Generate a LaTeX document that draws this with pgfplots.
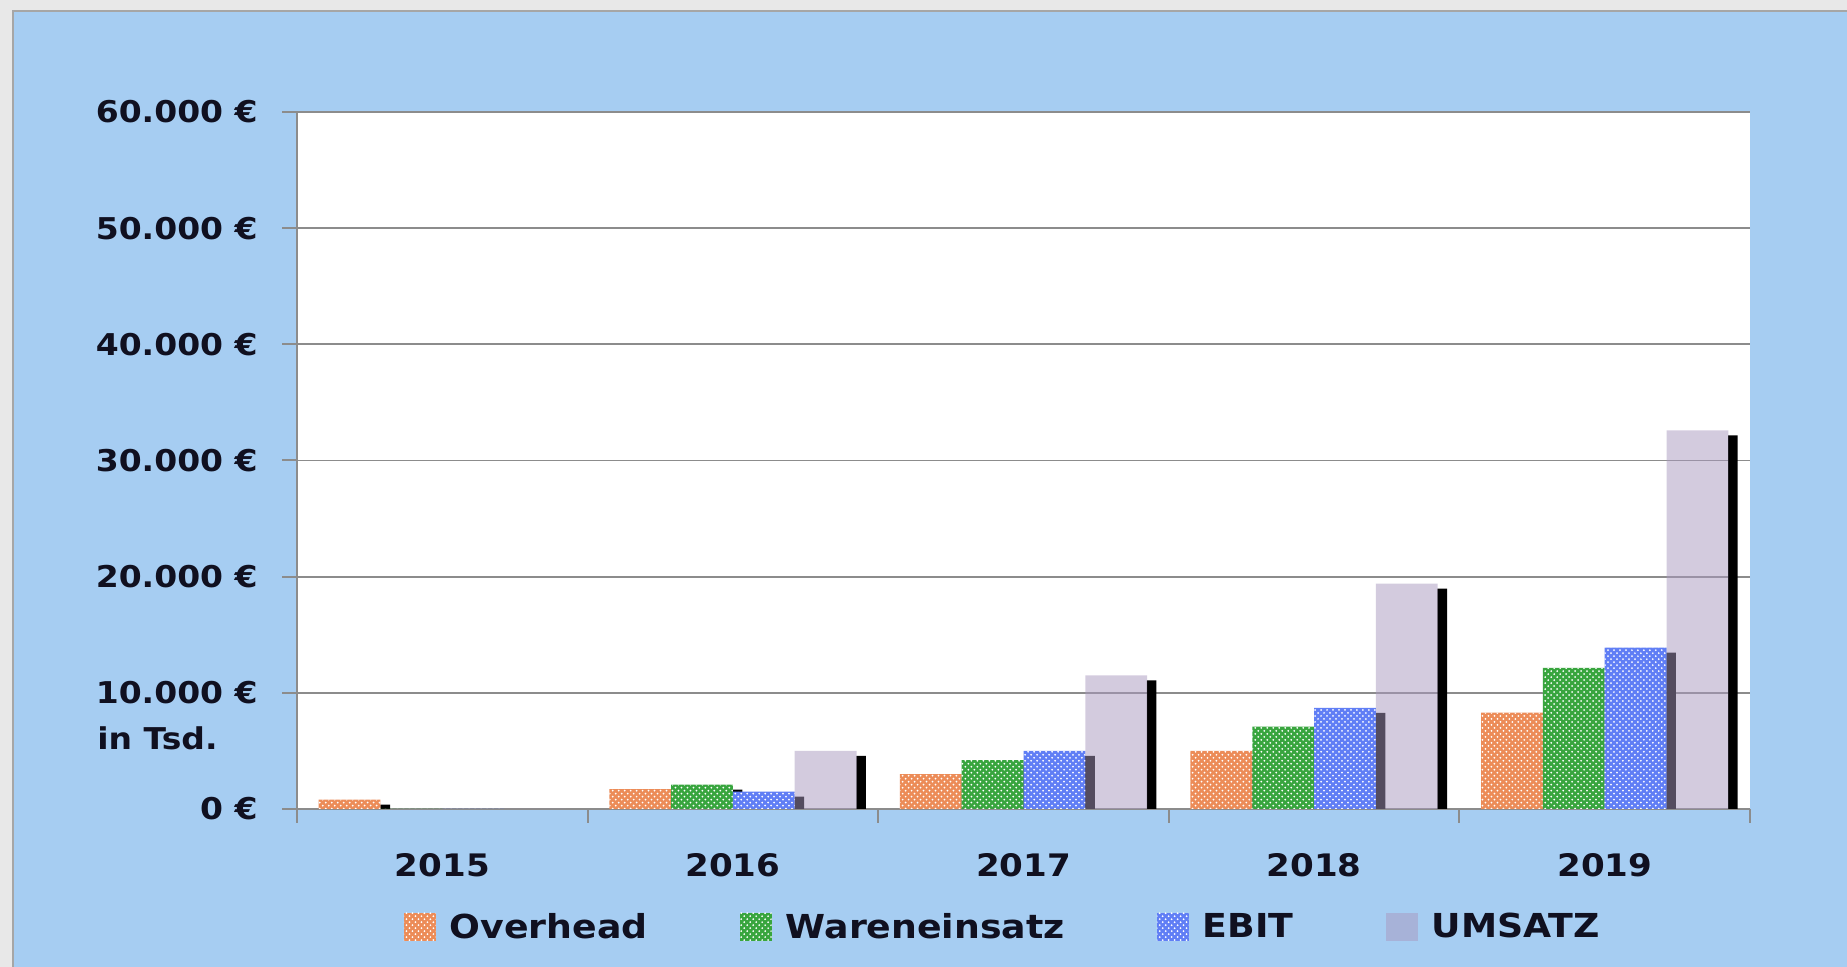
\documentclass[border=0pt]{standalone}
\usepackage{fontspec}
\setmainfont{DejaVu Sans}[FakeStretch=1.1]
\usepackage{pgfplots}
\pgfplotsset{compat=1.18}
\usetikzlibrary{patterns}
\definecolor{bgblue}{RGB}{166,205,242}
\definecolor{framegray}{RGB}{232,232,232}
\definecolor{ovc}{RGB}{236,140,88}
\definecolor{wac}{RGB}{56,165,62}
\definecolor{ebc}{RGB}{96,126,245}
\definecolor{umc}{RGB}{169,153,191}
\definecolor{gridc}{RGB}{140,140,140}
\definecolor{txt}{RGB}{16,16,32}
\begin{document}
\begin{tikzpicture}[x=1bp,y=1bp]
\fill[framegray] (0,0) rectangle (923.5,483.5);
\fill[bgblue] (6.5,0) rectangle (923.5,478);
\draw[gray!70, line width=1.2bp] (6.5,0) -- (6.5,478) -- (923.5,478);
\begin{axis}[at={(148.5bp,79bp)}, anchor=south west, scale only axis,
  width=726.5bp, height=348.5bp,
  xmin=0, xmax=5, ymin=0, ymax=60000,
  scaled y ticks=false,
  axis background/.style={fill=white},
  axis x line*=bottom, axis y line*=left,
  axis line style={gridc, line width=1bp},
  ytick={0,10000,20000,30000,40000,50000,60000},
  yticklabels={0 €,10.000 €,20.000 €,30.000 €,40.000 €,50.000 €,60.000 €},
  ymajorgrids, grid style={gridc, line width=0.9bp},
  xtick={0.5,1.5,2.5,3.5,4.5}, xticklabels={2015,2016,2017,2018,2019},
  minor xtick={0,1,2,3,4,5},
  tick align=outside,
  major tick length=7.5bp, minor tick length=7bp,
  major x tick style={draw=none},
  minor x tick style={gridc, line width=1bp},
  ytick style={gridc, line width=1bp},
  yticklabel style={font=\fontsize{15bp}{18bp}\selectfont\bfseries, text=txt, anchor=east, inner sep=0pt, xshift=-12bp},
  xticklabel style={font=\fontsize{15.5bp}{18bp}\selectfont\bfseries, text=txt, anchor=north, inner sep=0pt, yshift=-14.8bp},
  legend columns=4,
  legend image code/.code={\fill[#1] (0bp,-7bp) rectangle (16bp,7bp);},
  legend style={at={(axis description cs:0.4850,-0.1693)}, anchor=center, draw=none, fill=none,
    font=\fontsize{16.5bp}{20bp}\selectfont\bfseries, text=txt, inner sep=0pt,
    nodes={inner sep=0pt},
    /tikz/every even column/.append style={column sep=46bp},
    /tikz/every odd column/.append style={column sep=7bp}},
]
% Overhead
\addplot[ybar, bar width=0.033, bar shift=-0.1963, fill=black, draw=none, yshift=-2.5bp, forget plot]
  coordinates {(0.5,800) (1.5,1700) (2.5,3000) (3.5,5000) (4.5,8300)};
\addplot[ybar, bar width=0.2127, bar shift=-0.31905, fill=ovc, draw=none,
  postaction={pattern=crosshatch dots, pattern color=white}]
  coordinates {(0.5,800) (1.5,1700) (2.5,3000) (3.5,5000) (4.5,8300)};
% Wareneinsatz
\addplot[ybar, bar width=0.033, bar shift=0.0161, fill=black, draw=none, yshift=-2.5bp, forget plot]
  coordinates {(0.5,0) (1.5,2100) (2.5,4200) (3.5,7100) (4.5,12150)};
\addplot[ybar, bar width=0.2127, bar shift=-0.10635, fill=wac, draw=none,
  postaction={pattern=crosshatch dots, pattern color=white}]
  coordinates {(0.5,0) (1.5,2100) (2.5,4200) (3.5,7100) (4.5,12150)};
% EBIT
\addplot[ybar, bar width=0.033, bar shift=0.2287, fill=black, draw=none, yshift=-2.5bp, forget plot]
  coordinates {(0.5,0) (1.5,1500) (2.5,5000) (3.5,8700) (4.5,13900)};
\addplot[ybar, bar width=0.2127, bar shift=0.10635, fill=ebc, draw=none,
  postaction={pattern=crosshatch dots, pattern color=white}]
  coordinates {(0.5,0) (1.5,1500) (2.5,5000) (3.5,8700) (4.5,13900)};
% UMSATZ
\addplot[ybar, bar width=0.033, bar shift=0.4410, fill=black, draw=none, yshift=-2.5bp, forget plot]
  coordinates {(0.5,0) (1.5,5000) (2.5,11500) (3.5,19400) (4.5,32600)};
\addplot[ybar, bar width=0.2127, bar shift=0.31905, fill=umc, fill opacity=0.5, draw=none]
  coordinates {(0.5,0) (1.5,5000) (2.5,11500) (3.5,19400) (4.5,32600)};
\legend{Overhead, Wareneinsatz, EBIT, UMSATZ}
\end{axis}
\node[anchor=base west, inner sep=0pt, font=\fontsize{15bp}{18bp}\selectfont\bfseries, text=txt] at (48.5,108.5) {in Tsd.};
\pgfresetboundingbox
\path[use as bounding box] (0,0) rectangle (923.5,483.5);
\end{tikzpicture}
\end{document}
